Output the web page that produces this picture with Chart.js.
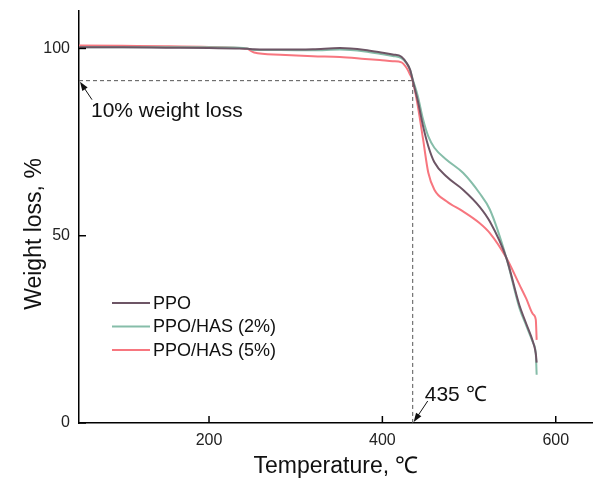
<!DOCTYPE html>
<html>
<head>
<meta charset="utf-8">
<script src="https://cdn.jsdelivr.net/npm/chart.js@4.4.0/dist/chart.umd.min.js"></script>
<style>
html,body{margin:0;padding:0;background:#fff;}
</style>
</head>
<body>
<canvas id="tga" width="593" height="481"></canvas>
<script>
/* ---------- Data ---------- */
const temps = [50,100,150,200,235,244,252,282,320,351,380,397,412,422,428,432,435,441,447,453,460,474,493,512,524,543,558,566,574,577,578];
const ppo   = [100.3,100.3,100.2,100.1,100.0,99.9,99.8,99.7,99.8,100.1,99.6,99.0,98.4,97.8,96.1,94.3,91.5,85.9,79.2,73.9,69.6,65.8,62.3,57.8,53.8,44.1,31.5,26.5,21.5,18.5,16.1];
const has2  = [100.3,100.3,100.3,100.3,100.2,100.0,99.6,99.6,99.5,99.7,99.2,98.6,98.0,97.4,96.0,94.3,91.8,87.2,81.0,76.5,73.5,70.3,66.8,61.4,57.0,44.1,30.8,26.0,21.3,18.5,12.9];
const has5  = [100.8,100.7,100.6,100.4,100.1,99.9,98.9,98.3,97.9,97.7,97.2,96.9,96.6,96.3,94.8,93.0,91.4,84.5,75.7,66.8,62.3,59.2,56.5,53.4,50.7,44.1,37.0,33.2,29.0,27.6,22.2];
const seriesNames = ['PPO','PPO/HAS (2%)','PPO/HAS (5%)'];
const xTicks = [200,400,600];
const yTicks = [0,50,100];
const lossTemp = 435;    // 10% weight loss temperature
const lossLevel = 91.4;  // weight at 10% loss

/* ---------- Styles ---------- */
const colors = ['#6d5565','#86bda9','#f7767f'];
const FONT = "'Liberation Sans', Arial, sans-serif";

const pts = ys => temps.map((t,i)=>({x:t,y:ys[i]}));
const lineSets = [ppo,has2,has5].map((ys,i)=>({
  label: seriesNames[i],
  data: pts(ys),
  borderColor: colors[i],
  borderWidth: 2,
  pointRadius: 0,
  cubicInterpolationMode: 'monotone',
  fill: false
}));
/* dashed guide: 10% loss level -> temperature */
const guide = {
  label: 'guide',
  data: [{x:50,y:lossLevel},{x:lossTemp,y:lossLevel},{x:lossTemp,y:0}],
  borderColor: '#555',
  borderWidth: 1,
  borderDash: [4,3],
  pointRadius: 0,
  tension: 0,
  fill: false
};

/* ---------- helpers ---------- */
function arrow(ctx,x1,y1,x2,y2){
  const a = Math.atan2(y2-y1,x2-x1), L = 9, W = 3.2;
  ctx.beginPath(); ctx.moveTo(x1,y1); ctx.lineTo(x2-L*0.6*Math.cos(a),y2-L*0.6*Math.sin(a)); ctx.stroke();
  ctx.beginPath();
  ctx.moveTo(x2,y2);
  ctx.lineTo(x2-L*Math.cos(a)+W*Math.sin(a), y2-L*Math.sin(a)-W*Math.cos(a));
  ctx.lineTo(x2-L*Math.cos(a)-W*Math.sin(a), y2-L*Math.sin(a)+W*Math.cos(a));
  ctx.closePath(); ctx.fill();
}

const decor = {
  id: 'decor',
  afterDraw(chart){
    const {ctx, chartArea:ca, scales:{x,y}} = chart;
    ctx.save();
    /* inward tick marks */
    ctx.strokeStyle = '#000'; ctx.lineWidth = 1.5;
    xTicks.forEach(v=>{ const px = x.getPixelForValue(v); ctx.beginPath(); ctx.moveTo(px,ca.bottom); ctx.lineTo(px,ca.bottom-7); ctx.stroke(); });
    yTicks.forEach(v=>{ const py = y.getPixelForValue(v); ctx.beginPath(); ctx.moveTo(ca.left,py); ctx.lineTo(ca.left+7,py); ctx.stroke(); });

    /* y title */
    ctx.fillStyle = '#111';
    ctx.font = '23px ' + FONT;
    ctx.textAlign = 'center'; ctx.textBaseline = 'middle';
    ctx.save(); ctx.translate(35,234); ctx.rotate(-Math.PI/2); ctx.fillText('Weight loss, %',0,0); ctx.restore();

    /* annotations */
    ctx.lineWidth = 1; ctx.strokeStyle = '#111';
    const ax = x.getPixelForValue(50), ay = y.getPixelForValue(lossLevel);
    arrow(ctx, ax+13, ay+19, ax+1, ay+1);
    ctx.font = '21px ' + FONT; ctx.textAlign = 'left';
    ctx.fillText('10% weight loss', ax+12, ay+31);
    const bx = x.getPixelForValue(lossTemp), by = y.getPixelForValue(0);
    arrow(ctx, bx+15, by-22, bx+1, by-1);
    ctx.fillText('435 \u2103', bx+12, by-28);

    /* legend */
    ctx.font = '18px ' + FONT;
    seriesNames.forEach((n,i)=>{
      const ly = 303 + i*23.5;
      ctx.strokeStyle = colors[i]; ctx.lineWidth = 2;
      ctx.beginPath(); ctx.moveTo(112,ly); ctx.lineTo(150,ly); ctx.stroke();
      ctx.fillStyle = '#111';
      ctx.fillText(n, 153, ly+1);
    });
    ctx.restore();
  }
};

new Chart(document.getElementById('tga').getContext('2d'), {
  type: 'line',
  data: { datasets: [...lineSets, guide] },
  options: {
    responsive: false,
    animation: false,
    layout: { padding: {top: 11, right: 0, left: 0, bottom: 0} },
    plugins: { legend: {display: false}, tooltip: {enabled: false} },
    scales: {
      x: {
        type: 'linear', min: 50, max: 643,
        afterBuildTicks: s => { s.ticks = xTicks.map(v=>({value:v})); },
        afterFit: s => { s.height = 58; s.paddingLeft = 0; s.paddingRight = 0; },
        grid: {display: true, drawOnChartArea: false, drawTicks: false},
        border: {display: true, color: '#000', width: 1.5},
        ticks: {padding: 8, color: '#222', font: {family: FONT, size: 16}},
        title: {display: true, text: 'Temperature, \u2103', color: '#111',
                font: {family: FONT, size: 23, lineHeight: 1.2}, padding: {top: 0, bottom: 1}}
      },
      y: {
        type: 'linear', min: 0, max: 110,
        afterBuildTicks: s => { s.ticks = yTicks.map(v=>({value:v})); },
        afterFit: s => { s.width = 79; s.paddingTop = 0; s.paddingBottom = 0; },
        grid: {display: true, drawOnChartArea: false, drawTicks: false},
        border: {display: true, color: '#000', width: 1.5},
        ticks: {padding: 9, color: '#222', font: {family: FONT, size: 16}}
      }
    }
  },
  plugins: [decor]
});
</script>
</body>
</html>
